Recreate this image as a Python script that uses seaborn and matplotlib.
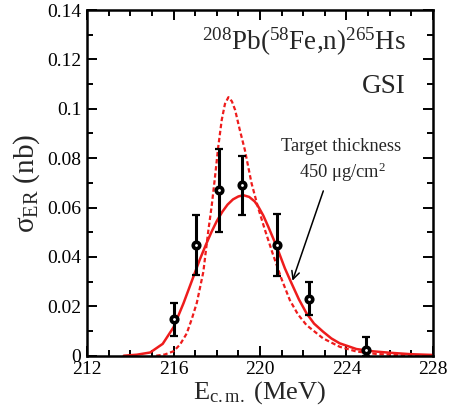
import numpy as np
import pandas as pd
import matplotlib
matplotlib.use("Agg")
import matplotlib.pyplot as plt
import seaborn as sns

# Measured evaporation-residue cross sections (nb) with asymmetric error bars
e_exp = [216.03, 217.02, 218.09, 219.17, 220.78, 222.25, 224.90]
sig_exp = [0.0147, 0.0448, 0.0670, 0.0690, 0.0447, 0.0230, 0.0023]
err_lo = [0.0067, 0.0121, 0.0170, 0.0120, 0.0124, 0.0067, 0.0023]
err_hi = [0.0068, 0.0122, 0.0167, 0.0120, 0.0125, 0.0068, 0.0051]

# Calculation folded with the target thickness (solid)
e_thick = [213.7, 214.3, 214.92, 215.5, 216.0, 216.46, 216.92, 217.2, 217.5,
           217.75, 218.0, 218.25, 218.5, 218.75, 219.0, 219.23, 219.5, 219.75,
           219.92, 220.15, 220.38, 220.77, 221.15, 221.46, 221.8, 222.15, 222.5,
           222.92, 223.3, 223.69, 224.46, 225.2, 226.0, 227.0, 228.0]
sig_thick = [0.0, 0.0004, 0.0013, 0.0048, 0.0115, 0.0212, 0.0320, 0.0386, 0.0450,
             0.0500, 0.0545, 0.0582, 0.0612, 0.0633, 0.0645, 0.0650, 0.0643, 0.0625,
             0.0604, 0.0568, 0.0523, 0.0442, 0.0354, 0.0293, 0.0228, 0.0172, 0.0130,
             0.0097, 0.0070, 0.0050, 0.0027, 0.0018, 0.0012, 0.0006, 0.0003]

# Calculation without thickness folding (dashed)
e_thin = [215.2, 215.6, 216.0, 216.3, 216.61, 216.85, 217.08, 217.38, 217.6,
          217.77, 217.92, 218.07, 218.23, 218.38, 218.54, 218.7, 218.85, 219.05,
          219.3, 219.61, 219.92, 220.23, 220.6, 221.0, 221.38, 221.75, 222.15,
          222.92, 223.69, 224.46, 225.38, 226.5, 228.0]
sig_thin = [0.0, 0.0005, 0.0018, 0.0045, 0.0090, 0.0150, 0.0215, 0.0340, 0.0500,
            0.0610, 0.0725, 0.0847, 0.0955, 0.1020, 0.1047, 0.1030, 0.0995, 0.0920,
            0.0833, 0.0698, 0.0597, 0.0509, 0.0410, 0.0310, 0.0225, 0.0168, 0.0124,
            0.0070, 0.0036, 0.0017, 0.0007, 0.0002, 0.0]

x_ticks = [212, 216, 220, 224, 228]
y_ticks = [0, 0.02, 0.04, 0.06, 0.08, 0.1, 0.12, 0.14]
y_tick_labels = ["0", "0.02", "0.04", "0.06", "0.08", "0.1", "0.12", "0.14"]

sns.set_style("ticks")
plt.rcParams["font.family"] = ["Liberation Serif", "DejaVu Serif"]
plt.rcParams["mathtext.fontset"] = "custom"
plt.rcParams["mathtext.rm"] = "Liberation Serif"
plt.rcParams["mathtext.it"] = "Liberation Serif:italic"

fig = plt.figure(figsize=(4.51, 4.17), dpi=100)
ax = fig.add_axes([0.193, 0.147, 0.767, 0.829])

red = "#ee1c1c"
df_thick = pd.DataFrame({"E": e_thick, "sigma": sig_thick})
df_thin = pd.DataFrame({"E": e_thin, "sigma": sig_thin})
sns.lineplot(data=df_thin, x="E", y="sigma", ax=ax, color=red, lw=1.6,
             linestyle=(0, (2.0, 1.2)), sort=False)
sns.lineplot(data=df_thick, x="E", y="sigma", ax=ax, color=red, lw=1.8, sort=False)

ax.errorbar(e_exp, sig_exp, yerr=[err_lo, err_hi], fmt="none", ecolor="black",
            elinewidth=2.2, capsize=3, capthick=1.6, zorder=4)
df_exp = pd.DataFrame({"E": e_exp, "sigma": sig_exp})
sns.scatterplot(data=df_exp, x="E", y="sigma", ax=ax, marker="o", s=22,
                facecolor="white", edgecolor="black", linewidth=2.6, zorder=5)

ax.set_xlim(212, 228)
ax.set_ylim(0, 0.14)
ax.set_xticks(x_ticks)
ax.set_xticks(np.arange(212, 229, 1), minor=True)
ax.set_yticks(y_ticks)
ax.set_yticklabels(y_tick_labels)
ax.set_yticks(np.arange(0, 0.1401, 0.01), minor=True)
ax.tick_params(which="both", direction="in", top=True, right=True,
               labelsize=14, width=1.4, colors="black", pad=4)
ax.tick_params(which="major", length=7)
ax.tick_params(which="minor", length=4)
for sp in ax.spines.values():
    sp.set_linewidth(1.8)
    sp.set_color("black")

ax.set_xlabel(r"E$_{\rm c.m.}$ (MeV)", fontsize=19, labelpad=1)
ax.set_ylabel(r"σ$_{\rm ER}$ (nb)", fontsize=21, labelpad=4)

ax.text(226.75, 0.1238, r"$^{208}$Pb($^{58}$Fe,n)$^{265}$Hs", fontsize=19.5,
        ha="right", va="baseline")
ax.text(226.75, 0.1063, "GSI", fontsize=19.5, ha="right", va="baseline")
ax.text(223.77, 0.0847, "Target thickness", fontsize=13.3, ha="center", va="center")
ax.text(223.8, 0.0742, r"450 μg/cm$^2$", fontsize=13.3, ha="center", va="center")
ax.annotate("", xy=(221.46, 0.0293), xytext=(222.97, 0.0678),
            arrowprops=dict(arrowstyle="->", color="black", lw=1.1,
                            mutation_scale=14))

fig.savefig("out.png", dpi=100)
